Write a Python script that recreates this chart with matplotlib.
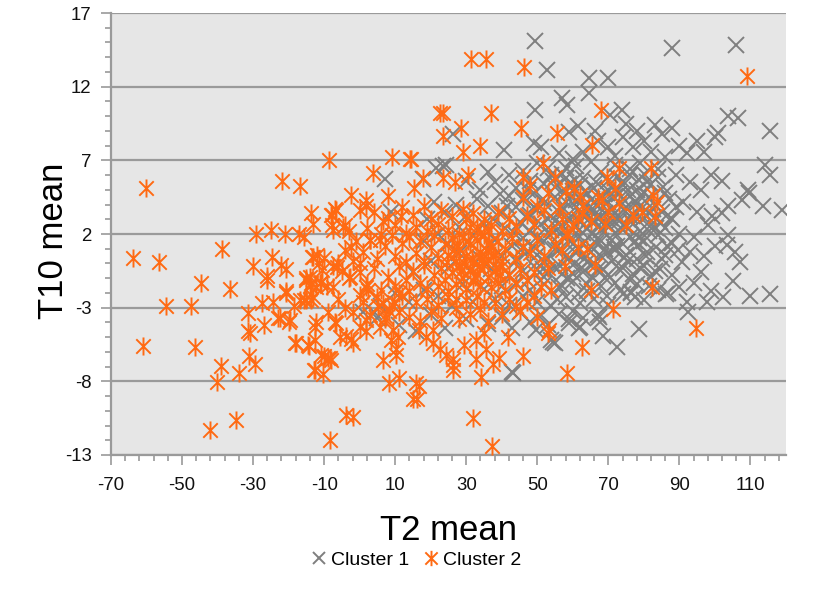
import matplotlib
matplotlib.use('Agg')
import numpy as np
import matplotlib.pyplot as plt
from matplotlib.path import Path
from matplotlib.ticker import FixedLocator

plt.rcParams['font.family'] = ['Liberation Sans', 'DejaVu Sans']
plt.rcParams['axes.unicode_minus'] = False

# -----------------------------
# Data (T2 mean, T10 mean)
# -----------------------------
c1_outer = [
    (49.4, 15.1), (52.7, 13.1), (87.9, 14.6), (105.9, 14.85), (64.6, 12.6), (69.8, 12.6),
    (64.6, 11.55), (56.9, 11.2), (58.5, 10.75), (49.4, 10.4), (73.8, 10.4), (70.5, 10.1),
    (61.6, 9.3), (66.3, 9.0), (103.8, 10.0), (106.6, 9.9), (115.5, 9.0), (101.0, 8.85),
    (100.0, 8.6), (59.0, 8.9), (40.7, 7.7), (49.2, 8.15), (51.1, 7.9), (26.2, 8.8),
    (23.4, 6.6), (17.8, 5.75), (7.0, 5.75), (8.9, 3.5), (21.5, 6.45), (24.4, 6.7),
    (114.1, 6.7), (115.5, 6.0), (113.6, 3.9), (118.8, 3.65), (109.4, 5.0), (107.5, 4.3),
    (103.8, 3.9), (101.9, 3.4), (99.1, 3.2), (109.6, 4.76), (105.2, -1.2), (107.1, 0.1),
    (105.7, 0.8), (103.3, 1.25), (103.8, 1.9), (94.0, 1.8), (93.0, 0.8), (90.7, 0.1),
    (86.9, -2.0), (84.1, -1.8), (76.4, -1.96), (92.1, -2.6), (92.5, -3.3), (97.7, -2.6),
    (102.4, -2.26), (109.9, -2.2), (115.5, -2.1), (76.3, -2.0), (86.2, -2.1),
    (78.7, -4.45), (68.6, -4.9), (72.4, -5.65), (67.2, -3.5), (62.1, -4.3), (58.8, -3.8),
    (67.7, -3.95), (55.1, -5.4), (59.0, -4.07), (61.8, -4.4), (54.3, -5.3), (49.6, -4.5),
    (53.9, -5.2), (42.9, -7.4), (43.1, -7.46), (67.4, -3.6),
]

c1_upper = [
    (75, 9.5), (78, 9.0), (80, 8.3), (83, 9.4), (85, 8.8), (88, 9.2), (90, 8.0), (92, 7.5),
    (95, 8.3), (97, 7.6), (86, 7.2), (82, 7.6), (77, 7.9), (74, 8.6), (72, 7.3), (79, 6.8),
    (84, 6.4), (89, 6.0), (93, 5.5), (96, 5.0), (99, 6.0), (102, 5.6), (91, 4.2), (95, 3.5),
    (98, 2.6), (88, 3.0), (86, 4.8), (81, 5.5), (76, 6.0), (70, 7.9), (67, 8.3), (63, 7.6),
    (60, 7.1), (58, 6.5), (56, 7.5), (54, 6.0), (52, 5.4), (100, 1.2), (97, 0.5), (96, -0.6),
    (88, -0.8), (85, 0.3), (82, -0.9), (79, -0.3), (90, -1.6), (94, -1.3), (99, -1.9),
]

c1_core = [
    (46, 6.3), (48, 5.6), (50, 6.8), (53, 6.5), (55, 5.2), (57, 6.1), (59, 5.4), (61, 6.6),
    (63, 5.8), (65, 6.9), (66, 5.1), (68, 6.2), (70, 5.6), (72, 6.7), (74, 5.3), (76, 6.4),
    (78, 5.0), (80, 6.1), (82, 5.4), (84, 5.9), (44, 5.1), (42, 6.0), (38, 5.5), (36, 6.2),
    (34, 5.0), (30, 5.6),
    (40, 3.4), (42, 4.6), (44, 3.8), (46, 4.3), (47, 3.1), (49, 4.8), (50, 3.6), (52, 4.1),
    (53, 3.0), (55, 4.5), (56, 3.5), (58, 4.2), (59, 3.1), (60, 4.9), (61, 3.8), (62, 4.4),
    (63, 3.2), (64, 4.7), (65, 3.6), (66, 4.1), (67, 3.0), (68, 4.6), (69, 3.4), (70, 4.2),
    (71, 3.7), (72, 4.9), (73, 3.1), (74, 4.4), (75, 3.8), (76, 4.6), (77, 3.3), (78, 4.1),
    (79, 3.6), (80, 4.8), (81, 3.2), (83, 4.0), (85, 3.5), (87, 4.4), (89, 3.8), (36, 3.9),
    (33, 4.4), (30, 3.2), (27, 4.0), (24, 3.5), (21, 4.2), (19, 3.0),
    (38, 1.6), (41, 2.4), (43, 1.2), (45, 2.8), (46, 1.7), (48, 2.2), (49, 1.1), (51, 2.7),
    (52, 1.5), (54, 2.3), (55, 1.0), (57, 2.6), (58, 1.8), (59, 2.9), (60, 1.3), (61, 2.1),
    (62, 2.8), (63, 1.4), (64, 2.4), (65, 1.1), (66, 2.9), (67, 1.7), (68, 2.3), (69, 1.0),
    (70, 2.6), (71, 1.6), (72, 2.1), (73, 2.9), (74, 1.3), (75, 2.5), (76, 1.8), (77, 2.7),
    (78, 1.2), (79, 2.2), (80, 1.5), (82, 2.6), (84, 1.9), (86, 2.4), (88, 1.4), (90, 2.0),
    (35, 2.7), (32, 1.9), (28, 2.5), (25, 1.3), (22, 2.0), (18, 1.5),
    (37, -0.4), (40, 0.5), (42, -0.8), (44, 0.2), (46, -0.5), (47, 0.8), (49, -0.2), (50, 0.6),
    (52, -0.9), (53, 0.3), (55, -0.3), (56, 0.9), (57, -0.7), (59, 0.4), (60, -0.1), (61, 0.7),
    (63, -0.6), (64, 0.1), (65, 0.8), (67, -0.4), (68, 0.5), (70, -0.8), (71, 0.2), (72, 0.9),
    (74, -0.3), (75, 0.6), (77, -0.7), (78, 0.3), (80, -0.2), (81, 0.8), (83, -0.5), (86, 0.6),
    (34, 0.4), (31, -0.5), (28, 0.7), (25, -0.3), (20, 0.2), (15, -0.6),
    (38, -2.4), (40, -1.5), (42, -2.8), (44, -1.3), (46, -2.2), (48, -1.8), (50, -2.6),
    (52, -1.4), (54, -2.9), (56, -1.6), (58, -2.3), (60, -1.2), (62, -2.7), (64, -1.9),
    (66, -2.4), (68, -1.5), (70, -2.8), (72, -1.3), (74, -2.1), (78, -1.4), (80, -2.5),
    (35, -1.7), (32, -2.6), (29, -1.4), (26, -2.9), (22, -2.2), (18, -1.8), (14, -2.6),
    (10, -2.0), (6, -2.9), (4, -3.3),
    (40, -3.6), (43, -4.4), (45, -3.3), (48, -4.0), (51, -3.5), (53, -4.2), (56, -3.4),
    (60, -3.2), (63, -3.7), (36, -4.1), (30, -3.8), (24, -4.4), (20, -3.5), (16, -4.6),
    (11, -4.2), (5, -3.7), (1, -3.3),
    (56.5, 2.0), (57.5, 3.7), (58.5, 0.6), (59.5, 4.5), (60.5, 2.5), (61.5, 1.0), (62.5, 3.5),
    (63.5, 0.4), (64.5, 3.0), (65.5, 4.4), (66.5, 1.4), (67.5, 2.6), (68.5, 3.9), (69.5, 0.7),
    (70.5, 3.1), (71.5, 4.5), (72.5, 1.2), (73.5, 2.4), (74.5, 3.6), (75.5, 0.2), (76.5, 2.9),
    (77.5, 4.2), (78.5, 1.7), (79.5, 3.0), (80.5, 0.5), (81.5, 2.2), (82.5, 3.7), (83.5, 1.1),
    (84.5, 2.8), (66, 0.0), (62, 5.3), (70, 5.0), (74, 5.6), (58, 5.8), (54, 3.2), (52, 0.2),
    (48, 3.3), (50, 1.8), (69, -1.0), (73, -0.4), (76, -1.1), (64, -1.4), (60, -0.7),
    (57, -1.5), (53, -0.6), (66, 3.6), (68, 1.5), (72, 3.4), (63, 2.1), (71, 2.7),
    (47.5, 5.0), (51.5, 4.4), (54.5, 5.6), (57.5, 4.8), (60.5, 5.7), (63.5, 4.9), (66.5, 5.5),
    (69.5, 4.8), (72.5, 5.9), (75.5, 5.0), (78.5, 5.7), (81.5, 4.5), (85.5, 5.2), (87.5, 3.1),
    (86.5, 1.2), (89.5, 0.9), (84.5, -0.4), (81.5, -1.5), (77.5, -2.3), (73.5, -1.8),
    (69.5, -2.2), (65.5, -0.9), (61.5, -2.1), (58.5, -1.0), (55.5, -2.4), (51.5, -0.4),
    (47.5, -1.2), (45.5, 0.9), (43.5, 2.1), (41.5, 3.9), (39.5, 4.7), (37.5, 3.0),
    (53.5, 1.9), (56.5, -0.2), (59.5, 1.5), (62.5, -0.3), (65.5, 2.0), (68.5, -0.4),
    (71.5, 1.1), (74.5, 0.4), (77.5, 1.5), (80.5, 3.6), (83.5, 2.4), (73, 4.7), (67, 3.3),
    (61, 4.3), (55, 2.9), (49, 3.8), (76, 3.2), (79, 4.6),
]

c2_left = [
    (-60.2, 5.1), (-8.6, 7.0), (-21.8, 5.6), (-16.9, 5.26), (-63.9, 0.4), (-56.6, 0.1),
    (-38.8, 1.0), (-44.7, -1.35), (-36.5, -1.7), (-54.5, -2.9), (-47.5, -2.9), (-61.1, -5.6),
    (-46.4, -5.65), (-39.1, -6.94), (-40.2, -8.07), (-34.1, -7.46), (-31.1, -6.3),
    (-29.5, -6.85), (-42.1, -11.3), (-34.9, -10.6), (-8.4, -12.0),
    (-29.1, 2.0), (-25.0, 2.3), (-21.1, 2.0), (-17.1, 2.0), (-15.7, 1.8), (-13.6, 3.44),
    (-13.0, 2.7), (-7.7, 3.3), (-6.8, 3.7), (-7.7, 2.6),
    (-29.9, -0.2), (-24.8, 0.45), (-26.0, -0.83), (-26.0, -1.1), (-22.2, -0.1), (-20.6, -0.4),
    (-20.6, -1.9), (-15.2, -1.0), (-13.8, -1.35), (-12.4, -1.6), (-11.0, -1.25), (-9.1, -1.5),
    (-13.3, 0.45), (-11.9, 0.57), (-10.0, 0.35), (-11.5, 0.0), (-10.5, -0.45), (-6.3, -0.22),
    (-27.6, -2.7), (-24.3, -2.6), (-31.4, -3.35), (-26.9, -4.2), (-23.0, -3.7), (-19.9, -4.0),
    (-18.5, -2.9), (-15.7, -2.5), (-13.8, -2.5), (-30.9, -4.7),
    (-18.3, -5.4), (-14.3, -5.6), (-12.7, -5.2), (-12.2, -4.0), (-12.6, -4.3), (-10.0, -6.3),
    (-8.2, -6.55), (-12.9, -7.2), (-10.3, -7.5), (-7.0, -4.0),
    (-3.8, -10.3), (-1.9, -10.4), (-6.6, -4.07), (-5.6, -5.0), (-3.8, -4.9), (-1.9, -5.4),
    (-2.35, -5.1), (-1.9, -3.28), (0.0, -4.3), (1.9, -4.6), (2.3, -1.8),
    (-15.0, -2.5), (-13.1, -2.26), (-16.9, -2.5), (-20.6, -2.0), (-22.5, -3.7), (-19.7, -3.85),
    (-31.4, -4.6), (-17.8, -5.4), (-14.5, -5.5), (-10.8, -6.2), (-8.9, -6.4), (-12.7, -7.2),
    (-7.5, -1.6), (-11.3, -1.35), (-14.1, -1.5), (-15.0, -1.1), (-4.7, 2.5), (-7.5, 2.3),
    (-13.1, 0.45), (-14.1, -0.9), (-7.5, -0.2), (-6.1, 0.0), (-2.8, -0.9), (0.0, 0.0),
    (-2.35, 1.1), (2.8, 1.6), (5.6, 1.6), (-8.4, -6.4),
]

c2_low = [
    (6.5, -6.56), (10.3, -6.2), (8.4, -8.1), (11.2, -7.8), (6.5, -2.7), (8.4, -3.2),
    (5.6, -4.3), (8.9, -5.2), (15.9, -8.1), (15.0, -9.2), (16.6, -8.3), (16.1, -9.2),
    (31.8, -10.5), (37.2, -12.4), (26.2, -6.9), (26.4, -6.5), (34.2, -7.7), (32.8, -6.45),
    (37.5, -6.8), (39.3, -6.4), (45.9, -6.3),
    (10.7, -5.0), (20.6, -5.4), (22.5, -5.8), (24.4, -6.2), (16.8, -4.5), (18.7, -5.0),
    (20.6, -4.5), (29.5, -5.5), (32.8, -5.2), (35.1, -4.75), (35.6, -5.8), (41.7, -5.0),
    (53.4, -4.5), (52.9, -4.7), (58.4, -7.46), (62.6, -5.65), (94.6, -4.4), (71.2, -3.1),
    (82.4, -1.6), (65.1, -1.8), (26.2, -7.2), (66.3, -0.1), (57.9, -0.2), (61.6, 1.13),
    (58.4, 1.9), (1.9, -1.6), (0.0, -2.15), (1.9, -3.85), (5.1, -2.9), (7.5, -3.6),
    (9.8, -2.6), (11.2, -2.0), (9.4, -4.5), (10.3, -5.8),
]

c2_high = [
    (108.9, 12.75), (68.0, 10.4), (55.5, 8.85), (65.4, 8.06), (72.9, 6.5), (81.9, 6.5),
    (69.6, 5.9), (71.9, 5.1), (60.2, 5.1), (62.1, 4.66), (68.2, 4.3), (69.1, 2.7),
    (62.6, 3.4), (61.6, 3.1), (55.1, 5.9), (79.4, 3.5), (82.7, 4.66), (83.6, 4.2),
    (83.2, 3.2), (58.4, 2.05),
    (31.4, 13.9), (35.6, 13.9), (46.4, 13.35), (22.5, 10.2), (23.4, 10.2), (37.0, 10.23),
    (28.4, 9.2), (23.4, 8.65), (45.4, 9.2), (29.2, 7.6), (33.9, 8.0), (14.5, 7.1),
    (51.5, 6.8), (15.4, 5.1), (23.4, 5.8), (26.7, 5.5), (30.4, 6.0),
    (9.2, 7.2), (14.3, 7.1), (3.7, 6.14), (-2.3, 4.66), (1.7, 4.3), (1.7, 3.9), (7.9, 4.55),
    (-6.6, 3.65), (-8.0, 3.3), (6.5, 2.86), (11.7, 3.2), (-4.2, 2.6), (17.8, 5.8),
]

c2_core = [
    (2, 2.4), (4, 3.5), (6, 2.0), (8, 3.1), (10, 2.6), (12, 3.8), (13, 2.1), (15, 3.3),
    (16, 2.5), (18, 3.9), (19, 2.2), (20, 3.0), (22, 2.7), (23, 3.6), (25, 2.3), (26, 3.2),
    (28, 2.0), (29, 3.7), (31, 2.5), (32, 3.4), (34, 2.1), (35, 3.0), (37, 2.6), (39, 3.5),
    (40, 2.2), (42, 3.1), (44, 2.5), (47, 3.3), (49, 2.7), (52, 3.6), (54, 2.3), (57, 3.0),
    (-3, 2.2), (0, 3.6), (-1, 1.5),
    (1, 0.8), (3, 1.6), (5, 0.3), (7, 1.2), (9, 1.9), (10, 0.5), (12, 1.4), (13, 0.1),
    (14, 1.8), (16, 0.7), (17, 1.5), (18, 0.2), (20, 1.1), (21, 1.9), (22, 0.4), (24, 1.3),
    (25, 0.6), (26, 1.7), (27, 0.2), (28, 1.0), (29, 1.8), (30, 0.5), (31, 1.3), (32, 0.1),
    (33, 1.6), (34, 0.8), (35, 1.9), (36, 0.3), (37, 1.1), (38, 0.6), (39, 1.5), (40, 0.2),
    (41, 1.0), (43, 1.7), (44, 0.4), (46, 1.2), (48, 0.7), (50, 1.6), (52, 0.5), (55, 1.3),
    (-4, 0.9), (-2, 0.2),
    (0, -0.6), (2, -1.4), (4, -0.3), (6, -1.8), (8, -0.9), (10, -1.5), (11, -0.2), (13, -1.1),
    (14, -1.9), (15, -0.5), (17, -1.3), (18, -0.1), (19, -1.7), (21, -0.8), (22, -1.5),
    (23, -0.3), (24, -1.1), (25, -1.9), (26, -0.6), (27, -1.4), (28, -0.2), (29, -1.0),
    (30, -1.7), (31, -0.4), (32, -1.2), (33, -0.7), (34, -1.5), (35, -0.1), (36, -0.9),
    (37, -1.6), (38, -0.5), (39, -1.3), (40, -0.2), (41, -1.8), (42, -0.8), (44, -1.4),
    (45, -0.4), (47, -1.1), (49, -0.6), (51, -1.6), (53, -0.3), (-3, -1.0), (-5, -0.5),
    (1, -2.6), (3, -3.5), (5, -2.3), (7, -3.8), (9, -2.8), (11, -3.3), (12, -2.2), (14, -3.6),
    (16, -2.6), (17, -3.9), (19, -2.4), (20, -3.2), (22, -2.8), (23, -3.7), (25, -2.3),
    (27, -3.0), (28, -3.8), (30, -2.5), (31, -3.4), (33, -2.2), (34, -3.1), (36, -3.9),
    (38, -2.7), (40, -3.4), (42, -2.4), (45, -3.2), (47, -2.6), (50, -3.6), (-4, -3.0),
    (-6, -2.4), (-9, -3.3),
    (26.5, 0.9), (28.5, -0.5), (30.5, 1.5), (32.5, -0.9), (34.5, 0.3), (36.5, 1.4),
    (38.5, -0.3), (31.5, 0.4), (33.5, -0.2), (35.5, 0.9), (27.5, 1.2), (29.5, 0.0),
    (37.5, 0.5), (39.5, -0.8), (24.5, 0.1), (33, 2.5), (36, 2.2), (30, 3.0), (27, -2.4),
    (35, -2.6),
    (46, 4.5), (48, 5.3), (50, 3.9), (53, 4.8), (56, 3.8), (58, 4.9), (60, 2.6), (63, 4.0),
    (65, 2.9), (67, 4.5), (64, 1.0), (70, 3.5), (73, 4.1), (75, 2.6), (77, 3.3), (57, 0.9),
    (54, -1.8), (49, -2.2), (44, -2.9), (46, 5.9),
]

cluster1 = np.array(c1_outer + c1_upper + c1_core)
cluster2 = np.array(c2_left + c2_low + c2_high + c2_core)

gray = '#7f7f7f'
orange = '#ff6a13'
grid_col = '#9a9a9a'

# asterisk marker: an x with a vertical stroke
star_path = Path(
    [(-1, -1), (1, 1), (-1, 1), (1, -1), (0, -1.25), (0, 1.25)],
    [Path.MOVETO, Path.LINETO, Path.MOVETO, Path.LINETO, Path.MOVETO, Path.LINETO],
)

# -----------------------------
# Figure
# -----------------------------
fig = plt.figure(figsize=(8.25, 5.95), dpi=100)
ax = fig.add_axes([0.1345, 0.2353, 0.8182, 0.7428])
ax.set_facecolor('#e6e6e6')

ax.plot(cluster1[:, 0], cluster1[:, 1], linestyle='none', marker='x', color=gray,
        markersize=11, markeredgewidth=1.4, label='Cluster 1', zorder=3)
ax.plot(cluster2[:, 0], cluster2[:, 1], linestyle='none', marker=star_path,
        markerfacecolor='none', markeredgecolor=orange, markersize=13,
        markeredgewidth=1.4, label='Cluster 2', zorder=4)

ax.set_xlim(-70, 120)
ax.set_ylim(-13, 17)
ax.set_xticks(np.arange(-70, 111, 20))
ax.set_yticks(np.arange(-13, 18, 5))
ax.xaxis.set_minor_locator(FixedLocator(np.arange(-70, 121, 4)))
ax.yaxis.set_minor_locator(FixedLocator(np.arange(-13, 18, 1)))

ax.yaxis.grid(True, which='major', color=grid_col, linewidth=1.6, zorder=1)
ax.set_axisbelow(True)

for side in ['top', 'right']:
    ax.spines[side].set_visible(False)
for side in ['left', 'bottom']:
    ax.spines[side].set_color(grid_col)
    ax.spines[side].set_linewidth(1.6)

ax.tick_params(which='major', direction='out', length=7, width=1.2, color=grid_col,
               labelsize=13.4, labelcolor='#111111')
ax.tick_params(which='minor', direction='out', length=4, width=1.2, color=grid_col)
ax.tick_params(axis='x', which='major', pad=9)
ax.tick_params(axis='y', which='major', pad=7)

ax.set_xlabel('T2 mean', fontsize=25, labelpad=14)
ax.set_ylabel('T10 mean', fontsize=25)
ax.yaxis.set_label_coords(-0.061, 0.484)

leg = fig.legend(loc='center', bbox_to_anchor=(0.504, 0.059), ncol=2, frameon=False,
                 fontsize=14, handlelength=0.9, handletextpad=0.15, columnspacing=0.7,
                 markerscale=0.85)

fig.savefig('out.png', dpi=100)
